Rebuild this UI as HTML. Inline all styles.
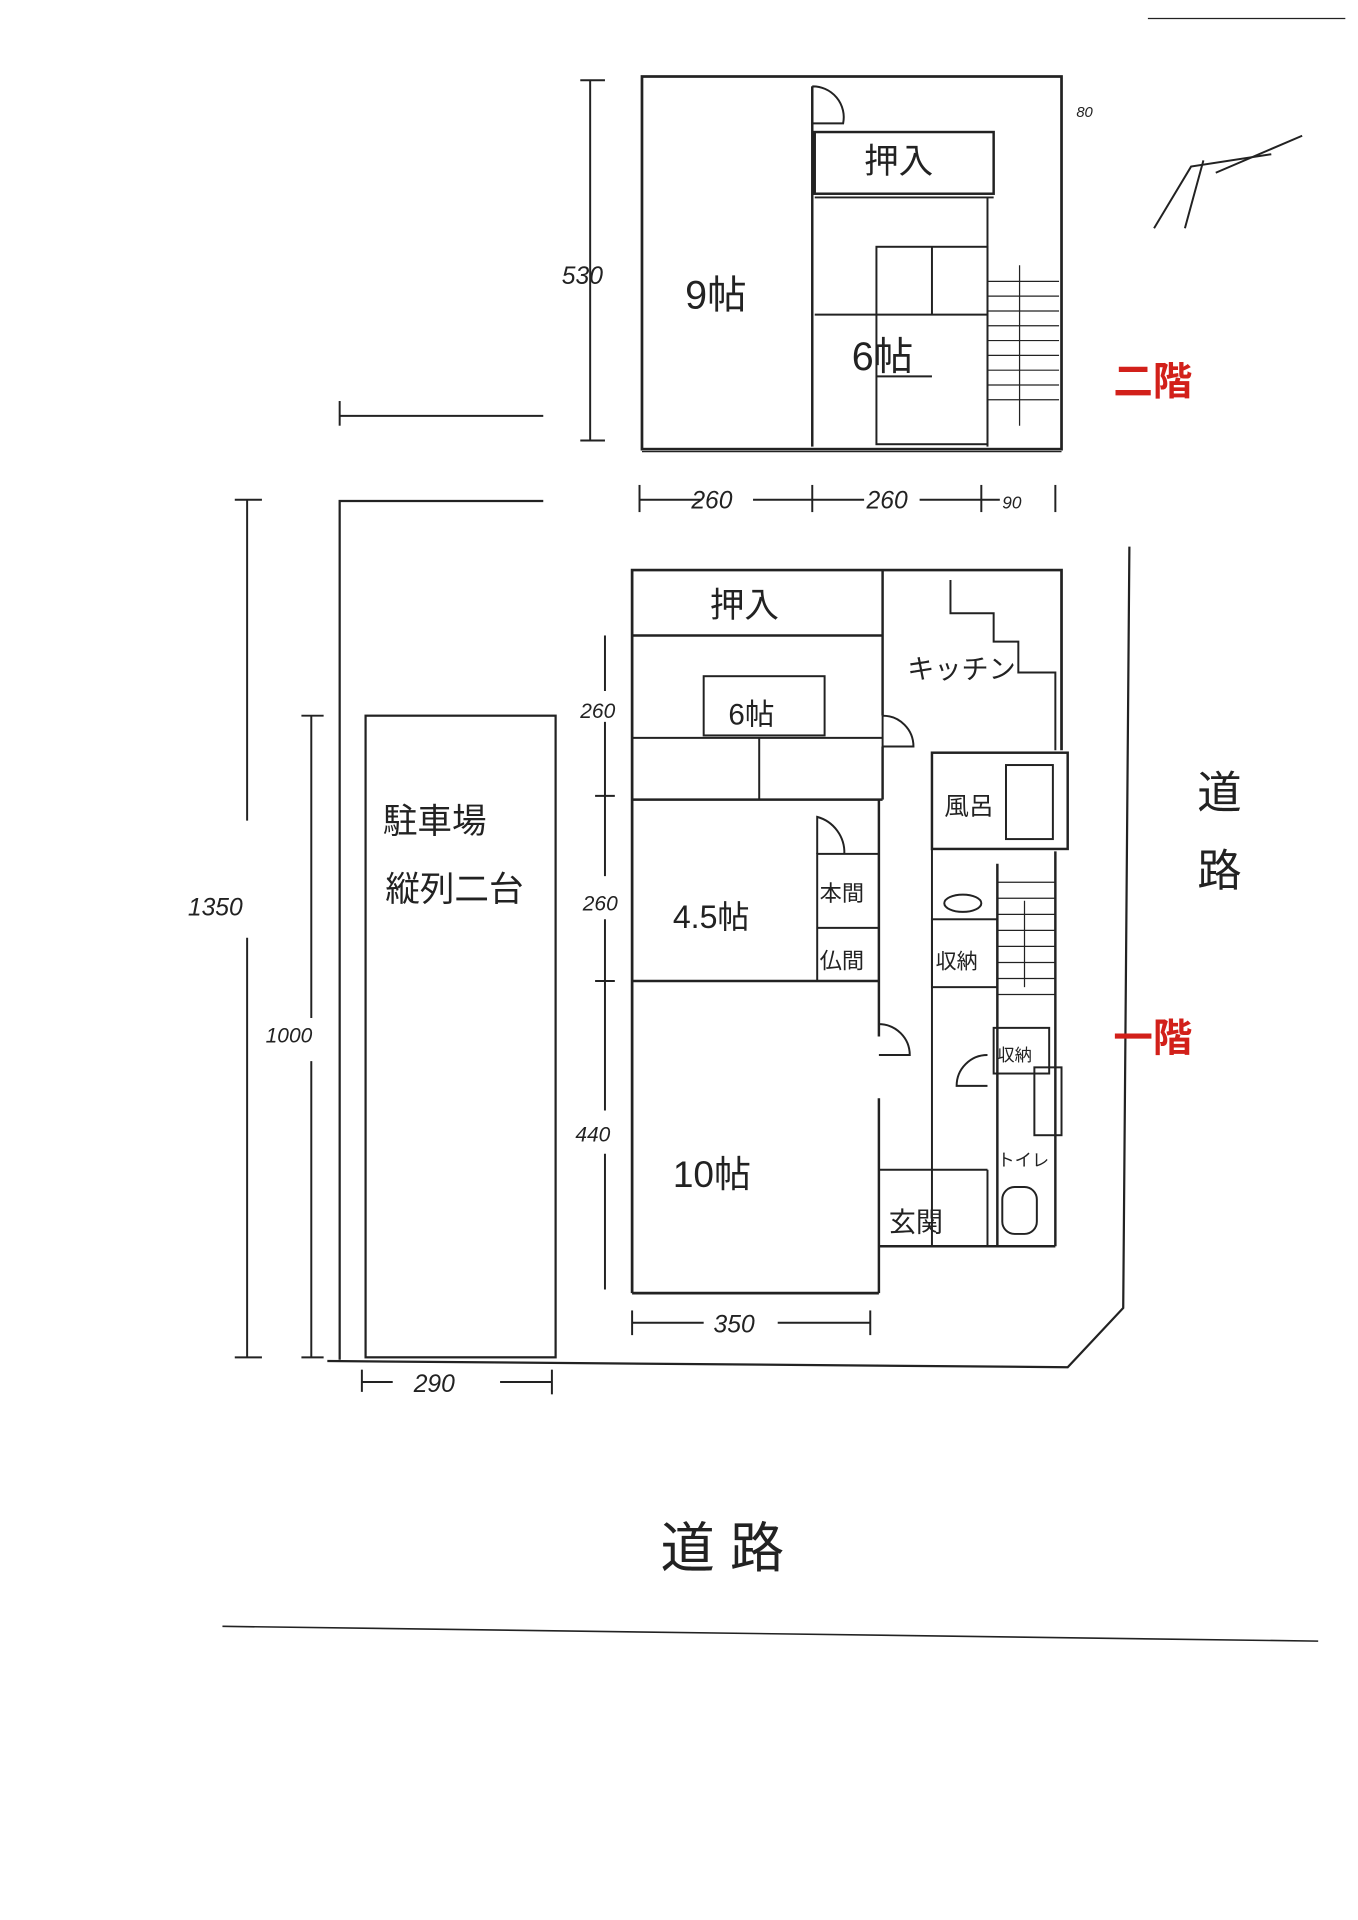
<!DOCTYPE html>
<html><head><meta charset="utf-8"><style>
html,body{margin:0;padding:0;background:#fff;}
svg{display:block;}
text{font-family:"Liberation Sans","Noto Sans CJK JP",sans-serif;fill:#222;}
</style></head><body>
<svg width="1358" height="1920" viewBox="0 0 1100 1556" xmlns="http://www.w3.org/2000/svg">
<g stroke="#222" stroke-width="1.6" fill="none">
<line x1="930" y1="15" x2="1090" y2="15" stroke-width="1"/>
<!-- north arrow -->
<polyline points="935,185 965,135 1030,125"/>
<line x1="960" y1="185" x2="975" y2="130"/>
<line x1="985" y1="140" x2="1055" y2="110"/>
<!-- 2F -->
<rect x="520" y="62" width="340" height="302" stroke-width="2.2"/>
<line x1="658" y1="70" x2="658" y2="362" stroke-width="2"/>
<rect x="660" y="107" width="145" height="50" stroke-width="2"/>
<path d="M658,70 v30 h25 a25,25 0 0 0 -25,-30"/>
<line x1="660" y1="160" x2="805" y2="160"/>
<rect x="710" y="200" width="90" height="160"/>
<line x1="755" y1="200" x2="755" y2="255"/>
<line x1="660" y1="255" x2="800" y2="255"/>
<line x1="710" y1="305" x2="755" y2="305"/>
<line x1="800" y1="160" x2="800" y2="362"/>
<g stroke-width="1">
<line x1="800" y1="228" x2="858" y2="228"/><line x1="800" y1="240" x2="858" y2="240"/>
<line x1="800" y1="252" x2="858" y2="252"/><line x1="800" y1="264" x2="858" y2="264"/>
<line x1="800" y1="276" x2="858" y2="276"/><line x1="800" y1="288" x2="858" y2="288"/>
<line x1="800" y1="300" x2="858" y2="300"/><line x1="800" y1="312" x2="858" y2="312"/>
<line x1="800" y1="324" x2="858" y2="324"/>
<line x1="826" y1="215" x2="826" y2="345"/>
</g>
<line x1="520" y1="366" x2="860" y2="366" stroke-width="1"/>
<!-- dims 2F -->
<line x1="478" y1="65" x2="478" y2="357"/>
<line x1="470" y1="65" x2="490" y2="65"/><line x1="470" y1="357" x2="490" y2="357"/>
<line x1="275" y1="337" x2="440" y2="337"/><line x1="275" y1="325" x2="275" y2="345"/>
<line x1="518" y1="405" x2="568" y2="405"/><line x1="610" y1="405" x2="700" y2="405"/>
<line x1="745" y1="405" x2="810" y2="405"/>
<line x1="518" y1="393" x2="518" y2="415"/><line x1="658" y1="393" x2="658" y2="415"/>
<line x1="795" y1="393" x2="795" y2="415"/><line x1="855" y1="393" x2="855" y2="415"/>
<!-- site -->
<polyline points="440,406 275,406 275,1102" stroke-width="1.8"/>
<polyline points="265,1103 865,1108 910,1060 915,443" stroke-width="1.8"/>
<!-- 1F -->
<rect x="512" y="462" width="348" height="586" stroke="none"/>
<polyline points="512,1048 512,462 860,462 860,608" stroke-width="2.2"/>
<line x1="512" y1="1048" x2="712" y2="1048" stroke-width="2.2"/>
<line x1="512" y1="515" x2="715" y2="515" stroke-width="2"/>
<line x1="715" y1="462" x2="715" y2="580" stroke-width="2"/>
<line x1="715" y1="605" x2="715" y2="648" stroke-width="2"/>
<line x1="512" y1="648" x2="715" y2="648" stroke-width="2"/>
<rect x="570" y="548" width="98" height="48"/>
<line x1="512" y1="598" x2="715" y2="598"/><line x1="615" y1="598" x2="615" y2="648"/>
<line x1="512" y1="795" x2="712" y2="795" stroke-width="2"/>
<line x1="712" y1="648" x2="712" y2="840" stroke-width="2"/>
<line x1="712" y1="890" x2="712" y2="1048" stroke-width="2"/>
<rect x="662" y="692" width="50" height="103"/><line x1="662" y1="752" x2="712" y2="752"/>
<path d="M662,692 v-30 a30,30 0 0 1 22,30"/>
<path d="M712,855 h25 a25,25 0 0 0 -25,-25"/>
<path d="M715,580 v25 h25 a25,25 0 0 0 -25,-25"/>
<polyline points="770,470 770,497 805,497 805,520 825,520 825,545 855,545 855,608"/>
<rect x="755" y="610" width="110" height="78" stroke-width="2"/>
<rect x="815" y="620" width="38" height="60"/>
<line x1="755" y1="688" x2="755" y2="1010"/>
<rect x="755" y="745" width="53" height="55"/>
<line x1="808" y1="700" x2="808" y2="1010" stroke-width="2"/>
<line x1="855" y1="690" x2="855" y2="1010" stroke-width="2"/>
<g stroke-width="1">
<line x1="808" y1="715" x2="855" y2="715"/><line x1="808" y1="728" x2="855" y2="728"/>
<line x1="808" y1="741" x2="855" y2="741"/><line x1="808" y1="754" x2="855" y2="754"/>
<line x1="808" y1="767" x2="855" y2="767"/><line x1="808" y1="780" x2="855" y2="780"/>
<line x1="808" y1="793" x2="855" y2="793"/><line x1="808" y1="806" x2="855" y2="806"/>
<line x1="830" y1="730" x2="830" y2="800"/>
</g>
<ellipse cx="780" cy="732" rx="15" ry="7"/>
<rect x="805" y="833" width="45" height="37"/>
<rect x="838" y="865" width="22" height="55"/>
<path d="M800,880 h-25 a25,25 0 0 1 25,-25"/>
<line x1="712" y1="948" x2="800" y2="948"/>
<line x1="712" y1="1010" x2="855" y2="1010" stroke-width="2"/>
<line x1="800" y1="948" x2="800" y2="1010"/>
<rect x="812" y="962" width="28" height="38" rx="10"/>
<!-- parking -->
<rect x="296" y="580" width="154" height="520" stroke-width="1.8"/>
<!-- dims 1F -->
<line x1="200" y1="405" x2="200" y2="665"/><line x1="200" y1="760" x2="200" y2="1100"/>
<line x1="190" y1="405" x2="212" y2="405"/><line x1="190" y1="1100" x2="212" y2="1100"/>
<line x1="252" y1="580" x2="252" y2="825"/><line x1="252" y1="860" x2="252" y2="1100"/>
<line x1="244" y1="580" x2="262" y2="580"/><line x1="244" y1="1100" x2="262" y2="1100"/>
<line x1="490" y1="515" x2="490" y2="560"/><line x1="490" y1="585" x2="490" y2="710"/>
<line x1="490" y1="745" x2="490" y2="900"/><line x1="490" y1="935" x2="490" y2="1045"/>
<line x1="482" y1="645" x2="498" y2="645"/><line x1="482" y1="795" x2="498" y2="795"/>
<line x1="512" y1="1072" x2="570" y2="1072"/><line x1="630" y1="1072" x2="705" y2="1072"/>
<line x1="512" y1="1062" x2="512" y2="1082"/><line x1="705" y1="1062" x2="705" y2="1082"/>
<line x1="293" y1="1120" x2="318" y2="1120"/><line x1="405" y1="1120" x2="447" y2="1120"/>
<line x1="293" y1="1110" x2="293" y2="1128"/><line x1="447" y1="1110" x2="447" y2="1130"/>
<line x1="180" y1="1318" x2="1068" y2="1330" stroke-width="1.3"/>
</g>
<g font-size="28">
<text x="700" y="140">押入</text>
<text x="555" y="250" font-size="32">9帖</text>
<text x="690" y="300" font-size="32">6帖</text>
<text x="575" y="500">押入</text>
<text x="735" y="550" font-size="22">キッチン</text>
<text x="590" y="587" font-size="24">6帖</text>
<text x="765" y="660" font-size="20">風呂</text>
<text x="545" y="752" font-size="26">4.5帖</text>
<text x="664" y="730" font-size="18">本間</text>
<text x="664" y="785" font-size="18">仏間</text>
<text x="758" y="785" font-size="17">収納</text>
<text x="808" y="860" font-size="14">収納</text>
<text x="808" y="945" font-size="14">トイレ</text>
<text x="545" y="962" font-size="30">10帖</text>
<text x="720" y="998" font-size="22">玄関</text>
<text x="310" y="675" font-size="28">駐車場</text>
<text x="312" y="730" font-size="28">縦列二台</text>
<text x="970" y="655" font-size="36">道</text>
<text x="970" y="718" font-size="36">路</text>
<text x="535" y="1270" font-size="44">道 路</text>
</g>
<g font-size="20" font-style="italic">
<text x="455" y="230">530</text>
<text x="560" y="412">260</text>
<text x="702" y="412">260</text>
<text x="812" y="412" font-size="14">90</text>
<text x="872" y="95" font-size="12">80</text>
<text x="470" y="582" font-size="17">260</text>
<text x="472" y="738" font-size="17">260</text>
<text x="466" y="925" font-size="17">440</text>
<text x="152" y="742">1350</text>
<text x="215" y="845" font-size="17">1000</text>
<text x="578" y="1080">350</text>
<text x="335" y="1128">290</text>
</g>
<text x="902" y="320" font-size="32" font-weight="bold" style="fill:#d2201a">二階</text>
<text x="902" y="852" font-size="32" font-weight="bold" style="fill:#d2201a">一階</text>
</svg>
</body></html>
